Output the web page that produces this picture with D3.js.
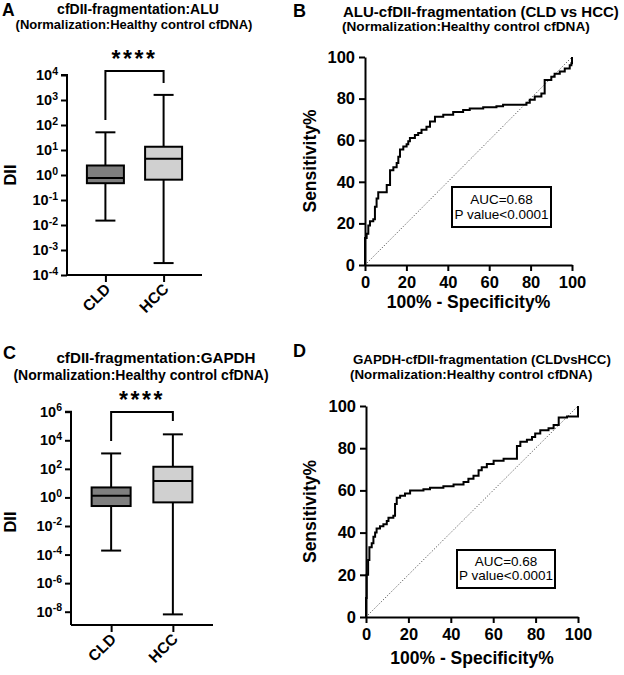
<!DOCTYPE html>
<html>
<head>
<meta charset="utf-8">
<script src="https://cdn.jsdelivr.net/npm/d3@7"></script>
<style>
  html, body { margin: 0; padding: 0; background: #fff; }
  svg { display: block; }
  text { font-family: "Liberation Sans", Arial, Helvetica, sans-serif; fill: #000; }
</style>
</head>
<body>
<svg id="chart" width="624" height="675"></svg>
<script>
// ---------------- DATA ----------------
const categories = ["CLD", "HCC"];

// Panel A: ALU box plot (min, q1, median, q3, max)
const aluMin    = [0.015, 0.0003];
const aluQ1     = [0.47, 0.65];
const aluMedian = [0.76, 4.5];
const aluQ3     = [2.4, 13.5];
const aluMax    = [51, 1600];
const aluTicks  = [-4, -3, -2, -1, 0, 1, 2, 3, 4];

// Panel C: GAPDH box plot
const gapMin    = [0.00019, 6.5e-9];
const gapQ1     = [0.25, 0.45];
const gapMedian = [1.3, 14];
const gapQ3     = [5, 140];
const gapMax    = [1200, 26000];
const gapTicks  = [-8, -6, -4, -2, 0, 2, 4, 6];

// Panel B: ALU ROC curve (100% - specificity, sensitivity)
const aluFpr = [0, 0, 0.8, 1.6, 2.4, 4.0, 4.8, 5.6, 6.4, 10.5, 12.1, 13.7, 15.3, 16.1, 16.9, 18.5, 20.1, 20.9, 21.7, 24.1, 25.7, 27.3, 29.7, 31.4, 33.8, 37.8, 42.6, 47.4, 50.6, 57.1, 63.5, 66.7, 76.4, 78, 79.6, 82, 85.2, 86.8, 90, 91.6, 94.1, 96.5, 98.9, 99.7, 100];
const aluTpr = [0, 13, 15, 19, 21, 22, 28, 32, 35, 38.5, 45.5, 47, 49, 52, 55.5, 57, 58, 59.5, 61, 62.5, 63.5, 65, 66.5, 69, 71.3, 72.2, 73.5, 74.5, 75.3, 75.8, 76.3, 77, 77, 78, 79.5, 81, 82.5, 89, 90.5, 92, 93, 94.5, 96, 97, 100];

// Panel D: GAPDH ROC curve
const gapFpr = [0, 0, 0.3, 1.0, 1.6, 2.7, 3.5, 4.3, 5.0, 6.6, 8.2, 9.8, 10.6, 12.9, 13.7, 14.5, 16.1, 18.4, 20.8, 27.1, 30.2, 36.5, 41.3, 46.0, 48.3, 50.7, 53.1, 54.6, 57.0, 60.2, 64.9, 71.2, 72.8, 75.9, 78.3, 79.8, 82.2, 86.1, 88.5, 90.9, 94.8, 100, 100];
const gapTpr = [0, 9, 20, 27, 33, 35, 38, 40, 42, 43, 44, 45.5, 47, 48, 53.5, 56.5, 57.5, 58.5, 60, 60.5, 61.3, 62, 62.8, 64, 65.5, 67, 69.5, 71, 72.5, 74, 75, 81, 83, 84, 85.3, 87, 88.5, 89.5, 91, 94.5, 95, 95, 100];

const rocTicks = [0, 20, 40, 60, 80, 100];
const boxFills = ["#7f7f7f", "#d0d0d0"];

// ---------------- DRAW ----------------
const svg = d3.select("#chart");
const BOLD = 700;

function text(g, x, y, str, opts = {}) {
  return g.append("text")
    .attr("x", x).attr("y", y)
    .attr("text-anchor", opts.anchor || "middle")
    .attr("font-size", opts.size || 13)
    .attr("font-weight", opts.weight === undefined ? BOLD : opts.weight)
    .text(str);
}

function boxPanel(cfg) {
  const g = svg.append("g");
  const y = d3.scaleLog().domain(cfg.yDomain).range([cfg.yBottom, cfg.yTop]);
  const x = d3.scalePoint().domain(categories).range([cfg.xLeft, cfg.xRight]).padding(cfg.pad);

  // y axis
  const yAxis = d3.axisLeft(y)
    .tickValues(cfg.ticks.map(e => Math.pow(10, e)))
    .tickSize(6).tickFormat("");
  const ya = g.append("g").attr("transform", `translate(${cfg.xLeft},0)`).call(yAxis);
  ya.selectAll("path, line").attr("stroke", "#000").attr("stroke-width", 2);
  ya.select("path.domain").attr("d", `M-6,${cfg.yTop}H0V${cfg.yBottom}`).attr("stroke-width", 2);
  cfg.ticks.forEach(e => {
    const t = g.append("text")
      .attr("x", cfg.xLeft - 9).attr("y", y(Math.pow(10, e)) + 5)
      .attr("text-anchor", "end").attr("font-size", 14.5).attr("font-weight", BOLD);
    t.append("tspan").text("10");
    t.append("tspan").attr("dy", -5.5).attr("font-size", 10.5).text(String(e));
  });

  // x axis
  const xAxis = d3.axisBottom(x).tickSize(7).tickFormat("");
  const xa = g.append("g").attr("transform", `translate(0,${cfg.yBottom})`).call(xAxis);
  xa.selectAll("path, line").attr("stroke", "#000").attr("stroke-width", 2);
  xa.select("path.domain").attr("d", `M${cfg.xLeft},0H${cfg.xRight}`);
  categories.forEach(c => {
    g.append("text")
      .attr("transform", `translate(${x(c) + 6},${cfg.yBottom + 15}) rotate(-45)`)
      .attr("text-anchor", "end").attr("font-size", 15.5).attr("font-weight", BOLD)
      .text(c);
  });

  // boxes
  const d = categories.map((c, i) => ({
    c, min: cfg.min[i], q1: cfg.q1[i], med: cfg.med[i], q3: cfg.q3[i], max: cfg.max[i], fill: boxFills[i]
  }));
  const bw = cfg.boxW, cw = cfg.capW;
  const bg = g.selectAll("g.box").data(d).join("g").attr("class", "box");
  bg.append("line").attr("x1", b => x(b.c)).attr("x2", b => x(b.c))
    .attr("y1", b => y(b.min)).attr("y2", b => y(b.max))
    .attr("stroke", "#000").attr("stroke-width", 2);
  bg.append("line").attr("x1", b => x(b.c) - cw / 2).attr("x2", b => x(b.c) + cw / 2)
    .attr("y1", b => y(b.min)).attr("y2", b => y(b.min)).attr("stroke", "#000").attr("stroke-width", 2);
  bg.append("line").attr("x1", b => x(b.c) - cw / 2).attr("x2", b => x(b.c) + cw / 2)
    .attr("y1", b => y(b.max)).attr("y2", b => y(b.max)).attr("stroke", "#000").attr("stroke-width", 2);
  bg.append("rect").attr("x", b => x(b.c) - bw / 2).attr("width", bw)
    .attr("y", b => y(b.q3)).attr("height", b => y(b.q1) - y(b.q3))
    .attr("fill", b => b.fill).attr("stroke", "#000").attr("stroke-width", 2);
  bg.append("line").attr("x1", b => x(b.c) - bw / 2).attr("x2", b => x(b.c) + bw / 2)
    .attr("y1", b => y(b.med)).attr("y2", b => y(b.med)).attr("stroke", "#000").attr("stroke-width", 2);

  // significance bracket
  const bx1 = x(categories[0]), bx2 = x(categories[1]);
  g.append("path")
    .attr("d", `M${bx1},${cfg.legL}V${cfg.bracketY}H${bx2}V${cfg.legR}`)
    .attr("fill", "none").attr("stroke", "#000").attr("stroke-width", 2);
  g.append("text").attr("x", (bx1 + bx2) / 2).attr("y", cfg.bracketY - 4)
    .attr("text-anchor", "middle").attr("font-size", 23).attr("font-weight", BOLD)
    .attr("letter-spacing", 2.5).text("****");

  // y label
  g.append("text")
    .attr("transform", `translate(${cfg.yLabelX},${cfg.yLabelY}) rotate(-90)`)
    .attr("text-anchor", "middle").attr("font-size", 16.5).attr("font-weight", BOLD).text("DII");
}

function rocPanel(cfg) {
  const g = svg.append("g");
  const x = d3.scaleLinear().domain([0, 100]).range([cfg.x0, cfg.x1]);
  const y = d3.scaleLinear().domain([0, 100]).range([cfg.y0, cfg.y1]);

  const xa = g.append("g").attr("transform", `translate(0,${cfg.y0})`)
    .call(d3.axisBottom(x).tickValues(rocTicks).tickSize(6).tickSizeOuter(0).tickPadding(5));
  const ya = g.append("g").attr("transform", `translate(${cfg.x0},0)`)
    .call(d3.axisLeft(y).tickValues(rocTicks).tickSize(6).tickSizeOuter(0).tickPadding(4));
  [xa, ya].forEach(a => {
    a.selectAll("path, line").attr("stroke", "#000").attr("stroke-width", 2);
    a.selectAll("text").attr("font-size", 16.5).attr("font-weight", BOLD)
      .attr("font-family", '"Liberation Sans", Arial, sans-serif').attr("fill", "#000");
  });

  // diagonal
  g.append("line").attr("x1", x(0)).attr("y1", y(0)).attr("x2", x(100)).attr("y2", y(100))
    .attr("stroke", "#555").attr("stroke-width", 1).attr("stroke-dasharray", "1.2,1.8");

  const pts = cfg.fpr.map((f, i) => [f, cfg.tpr[i]]);
  const line = d3.line().x(p => x(p[0])).y(p => y(p[1])).curve(d3.curveStepAfter);
  g.append("path").attr("d", line(pts)).attr("fill", "none")
    .attr("stroke", "#000").attr("stroke-width", 2);

  // AUC box
  g.append("rect").attr("x", cfg.bx).attr("y", cfg.by).attr("width", cfg.bw).attr("height", cfg.bh)
    .attr("fill", "#fff").attr("stroke", "#000").attr("stroke-width", 2);
  text(g, cfg.bx + cfg.bw / 2, cfg.by + cfg.bh * 0.42, "AUC=0.68", { size: 13.5, weight: 400 });
  text(g, cfg.bx + cfg.bw / 2, cfg.by + cfg.bh * 0.8, "P value<0.0001", { size: 13.5, weight: 400 });

  // axis titles
  text(g, (cfg.x0 + cfg.x1) / 2, cfg.xTitleY, "100% - Specificity%", { size: 17.5 });
  g.append("text").attr("transform", `translate(${cfg.yTitleX},${(cfg.y0 + cfg.y1) / 2}) rotate(-90)`)
    .attr("text-anchor", "middle").attr("font-size", 17.5).attr("font-weight", BOLD).text("Sensitivity%");
}

// Panel A
boxPanel({
  yDomain: [1e-4, 1e4], yTop: 75, yBottom: 275, xLeft: 67, xRight: 202, pad: 0.66,
  ticks: aluTicks, min: aluMin, q1: aluQ1, med: aluMedian, q3: aluQ3, max: aluMax,
  boxW: 37, capW: 20, bracketY: 71, legL: 120, legR: 83, yLabelX: 16, yLabelY: 175
});
// Panel C
boxPanel({
  yDomain: [Math.pow(10, -8.93), 1e6], yTop: 411.7, yBottom: 625, xLeft: 71, xRight: 213, pad: 0.65,
  ticks: gapTicks, min: gapMin, q1: gapQ1, med: gapMedian, q3: gapQ3, max: gapMax,
  boxW: 39, capW: 20, bracketY: 412, legL: 441, legR: 421, yLabelX: 16, yLabelY: 522
});
// Panel B
rocPanel({
  x0: 365, x1: 572, y0: 265, y1: 57, fpr: aluFpr, tpr: aluTpr,
  bx: 452, by: 187, bw: 99, bh: 40, xTitleY: 308, yTitleX: 316
});
// Panel D
rocPanel({
  x0: 366, x1: 578, y0: 617, y1: 406, fpr: gapFpr, tpr: gapTpr,
  bx: 457, by: 550, bw: 98, bh: 38, xTitleY: 664, yTitleX: 316
});

// Panel letters and titles
const T = svg.append("g");
text(T, 2, 16, "A", { anchor: "start", size: 17.5 });
text(T, 293, 17, "B", { anchor: "start", size: 18 });
text(T, 3, 359, "C", { anchor: "start", size: 18 });
text(T, 293, 357, "D", { anchor: "start", size: 18 });

text(T, 138, 14, "cfDII-fragmentation:ALU", { size: 14 });
text(T, 134, 29, "(Normalization:Healthy control cfDNA)", { size: 13 });
text(T, 343, 17, "ALU-cfDII-fragmentation (CLD vs HCC)", { anchor: "start", size: 15 });
text(T, 342, 31, "(Normalization:Healthy control cfDNA)", { anchor: "start", size: 13.6 });
text(T, 156, 363, "cfDII-fragmentation:GAPDH", { size: 15.2 });
text(T, 141, 380, "(Normalization:Healthy control cfDNA)", { size: 14 });
text(T, 353, 364, "GAPDH-cfDII-fragmentation (CLDvsHCC)", { anchor: "start", size: 13.3 });
text(T, 350, 378.5, "(Normalization:Healthy control cfDNA)", { anchor: "start", size: 13.3 });
</script>
</body>
</html>
